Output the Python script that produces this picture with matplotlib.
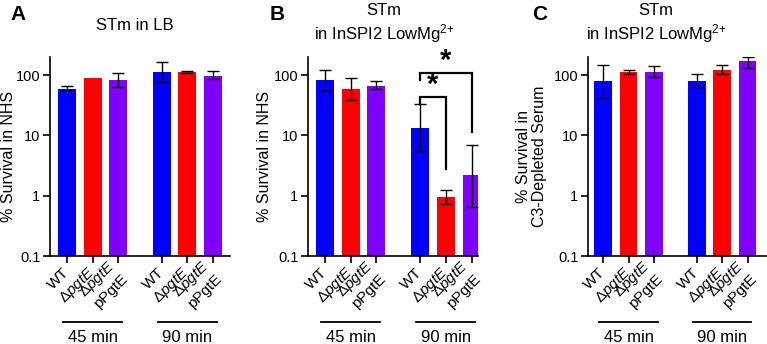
import numpy as np
import matplotlib
matplotlib.use("Agg")
import matplotlib.pyplot as plt
import matplotlib.transforms as mtrans

plt.rcParams['font.family'] = ['Liberation Sans', 'DejaVu Sans']
plt.rcParams['mathtext.fontset'] = 'custom'
plt.rcParams['mathtext.rm'] = 'Liberation Sans'
plt.rcParams['mathtext.it'] = 'Liberation Sans:italic'

# 数据
strains = ['WT', 'Δ$\\it{pgtE}$', 'Δ$\\it{pgtE}$\npPgtE']
times = ['45 min', '90 min']
colors = ['#0000ff', '#ff0000', '#7f00ff']

a_mean = [60, 88, 83, 112, 113, 97]
a_lo = [56, np.nan, 63, 76, 110, 85]
a_hi = [66, np.nan, 108, 165, 116, 115]

b_mean = [83, 58, 67, 13.2, 0.95, 2.17]
b_lo = [55, 39, 58, 5.6, 0.73, 0.66]
b_hi = [122, 88, 80, 33, 1.25, 7.0]

c_mean = [80, 113, 113, 80, 124, 174]
c_lo = [42, 104, 94, 63, 103, 132]
c_hi = [146, 121, 141, 103, 150, 198]

xpos = [0, 1, 2, 3.7, 4.7, 5.7]

W, H = 767, 344
fig = plt.figure(figsize=(W / 100, H / 100), dpi=100)


def px_axes(x0, x1, y_top=57, y_bot=256):
    return fig.add_axes([x0 / W, (H - y_bot) / H, (x1 - x0) / W, (y_bot - y_top) / H])


def draw_panel(ax, mean, lo, hi, xlim, ylabel, ylab_x):
    mean = np.array(mean, float)
    err = np.vstack([mean - np.array(lo), np.array(hi) - mean])
    ax.bar(xpos, mean, width=0.7, color=colors * 2, edgecolor='none', zorder=2)
    ax.errorbar(xpos, mean, yerr=err, fmt='none', ecolor='black', elinewidth=1,
                capsize=4, capthick=1, zorder=3)
    ax.set_yscale('log')
    ax.set_ylim(0.1, 200)
    ax.set_xlim(*xlim)
    ax.set_yticks([0.1, 1, 10, 100])
    ax.set_yticklabels(['0.1', '1', '10', '100'])
    ax.minorticks_off()
    ax.set_xticks(xpos)
    ax.set_xticklabels(strains * 2, rotation=45, ha='right', va='center',
                       rotation_mode='anchor', fontsize=11, linespacing=1.15)
    ax.tick_params(axis='x', pad=5)
    ax.tick_params(axis='y', labelsize=10.5, pad=2)
    ax.tick_params(length=5, width=1.2)
    for s in ['top', 'right']:
        ax.spines[s].set_visible(False)
    for s in ['left', 'bottom']:
        ax.spines[s].set_linewidth(1.2)
    ax.set_ylabel(ylabel, fontsize=11.5, linespacing=1.1)
    ax.yaxis.set_label_coords(ylab_x, 0.5)
    # 时间分组下划线
    tr = mtrans.blended_transform_factory(ax.transData, fig.transFigure)
    for gi, t in enumerate(times):
        mid = xpos[gi * 3 + 1]
        ax.plot([mid - 1.15, mid + 1.15], [(H - 322) / H] * 2, color='black', lw=1.3,
                transform=tr, clip_on=False)
        ax.text(mid, (H - 338) / H, t, fontsize=12, ha='center', va='center',
                transform=tr)


axA = px_axes(50, 230)
draw_panel(axA, a_mean, a_lo, a_hi, (-0.67, 6.37), '% Survival in NHS', -0.19)
axB = px_axes(308, 478)
draw_panel(axB, b_mean, b_lo, b_hi, (-0.66, 5.95), '% Survival in NHS', -0.21)
axC = px_axes(588, 766)
draw_panel(axC, c_mean, c_lo, c_hi, (-0.6, 6.43), '% Survival in\nC3-Depleted Serum', -0.23)

# 显著性标记
bk = dict(color='black', lw=1.6, clip_on=False, solid_joinstyle='miter')
axB.plot([xpos[3], xpos[3], xpos[4], xpos[4]], [33, 43.5, 43.5, 2.8], **bk)
axB.plot([xpos[3], xpos[3], xpos[5], xpos[5]], [83, 109, 109, 11.6], **bk)
axB.text((xpos[3] + xpos[4]) / 2, 68, '*', fontsize=21, fontweight='bold',
         ha='center', va='center', clip_on=False)
axB.text((xpos[3] + xpos[5]) / 2, 170, '*', fontsize=21, fontweight='bold',
         ha='center', va='center', clip_on=False)

# 标题
title_b = 'STm\nin InSPI2 LowMg$^{2\\!+}$'
fig.text(135 / W, 1 - 26 / H, 'STm in LB', fontsize=12, ha='center', va='center')
fig.text(384 / W, 1 - 24 / H, title_b, fontsize=12,
         ha='center', va='center', linespacing=1.2)
fig.text(656 / W, 1 - 24 / H, title_b, fontsize=12,
         ha='center', va='center', linespacing=1.2)

# 面板字母
for lx, lab in [(10, 'A'), (270, 'B'), (532, 'C')]:
    fig.text(lx / W, 1 - 14 / H, lab, fontsize=15, fontweight='bold', ha='left', va='center')

fig.savefig('out.png', dpi=100)
